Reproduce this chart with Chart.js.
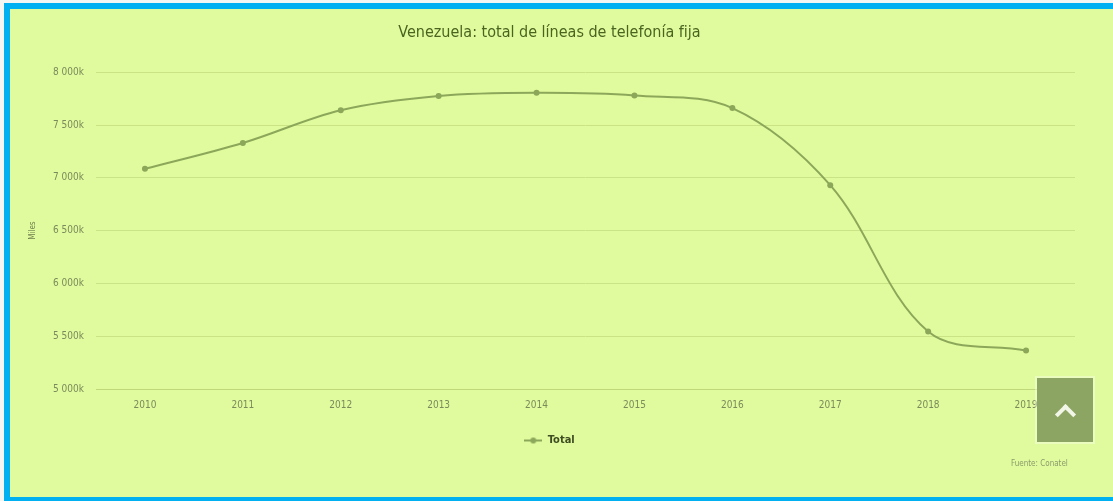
<!DOCTYPE html>
<html lang="es">
<head>
<meta charset="utf-8">
<title>Venezuela: total de líneas de telefonía fija</title>
<script src="https://cdn.jsdelivr.net/npm/chart.js@4"></script>
<style>
    html, body { margin: 0; padding: 0; background: #f4f6f4; overflow: hidden; }
    #marco {
        position: absolute; left: 4px; top: 3px; width: 1115px; height: 488px;
        background: #e0fb9d;
        border-left: 6px solid #00b0f0;
        border-top: 6px solid #00b0f0;
        border-bottom: 4px solid #00b0f0;
    }
    #grafico { position: absolute; left: 0; top: 0; width: 1113px; height: 501px; }
    #fuente {
        position: absolute; left: 1011px; top: 459px;
        font: 8px "DejaVu Sans Condensed", "DejaVu Sans", sans-serif; color: #8a9a6c;
    }
    #subir {
        position: absolute; left: 1037px; top: 378px; width: 56px; height: 64px;
        background: #8da563; box-shadow: 0 0 0 2px rgba(255,255,255,0.35);
    }
    #subir::after {
        content: ''; position: absolute; left: 21px; top: 29px; width: 11px; height: 11px;
        border-left: 4px solid #f1f6e6; border-top: 4px solid #f1f6e6;
        transform: rotate(45deg);
    }
</style>
</head>
<body>
<div id="marco"></div>
<div id="grafico"><canvas id="lineas-chart"></canvas></div>
<div id="fuente">Fuente: Conatel</div>
<div id="subir"></div>
<script>
// Líneas de telefonía fija en Venezuela (miles)
const anios = ['2010', '2011', '2012', '2013', '2014', '2015', '2016', '2017', '2018', '2019'];
const totalLineas = [7085, 7330, 7640, 7775, 7805, 7780, 7660, 6930, 5545, 5365];
const ticksMiles = [5000, 5500, 6000, 6500, 7000, 7500, 8000];

const colorLinea = '#8ca75a';
const colorTexto = '#7b8a5c';
const fuenteEjes = '"DejaVu Sans Condensed", "DejaVu Sans", sans-serif';

// "7500" -> "7 500k"
function formatoMiles(v) {
    const miles = Math.floor(v / 1000);
    const resto = String(v % 1000).padStart(3, '0');
    return `${miles} ${resto}k`;
}

// Símbolo de la leyenda: línea corta con un punto en medio
const simbolo = document.createElement('canvas');
simbolo.width = 18;
simbolo.height = 8;
const sctx = simbolo.getContext('2d');
sctx.strokeStyle = colorLinea;
sctx.lineWidth = 2;
sctx.beginPath();
sctx.moveTo(0, 4);
sctx.lineTo(18, 4);
sctx.stroke();
sctx.fillStyle = colorLinea;
sctx.beginPath();
sctx.arc(9, 4, 3, 0, Math.PI * 2);
sctx.fill();

const ctx = document.getElementById('lineas-chart').getContext('2d');
new Chart(ctx, {
    type: 'line',
    data: {
        labels: anios,
        datasets: [{
            label: 'Total',
            data: totalLineas,
            borderColor: colorLinea,
            backgroundColor: colorLinea,
            borderWidth: 2,
            pointRadius: 3,
            pointBackgroundColor: colorLinea,
            pointBorderWidth: 0,
            tension: 0.35,
            fill: false
        }]
    },
    options: {
        responsive: true,
        maintainAspectRatio: false,
        animation: false,
        layout: { padding: { left: 24, right: 38, top: 0, bottom: 45 } },
        plugins: {
            title: {
                display: true,
                text: 'Venezuela: total de líneas de telefonía fija',
                color: '#4a6420',
                font: { family: fuenteEjes, size: 16, weight: 'normal', lineHeight: 1.2 },
                padding: { top: 23, bottom: 30 }
            },
            legend: {
                position: 'bottom',
                labels: {
                    usePointStyle: true,
                    pointStyle: simbolo,
                    pointStyleWidth: 18,
                    padding: 16,
                    color: '#3f4d22',
                    font: { family: fuenteEjes, size: 11, weight: 'bold' }
                }
            },
            tooltip: { enabled: false }
        },
        scales: {
            x: {
                offset: true,
                grid: { display: false, drawTicks: false },
                border: { display: true, color: '#bfd97a', width: 1 },
                ticks: { color: colorTexto, padding: 10, font: { family: fuenteEjes, size: 10 } },
                afterFit: scale => { scale.height = 30; }
            },
            y: {
                min: 5000,
                max: 8000,
                afterBuildTicks: scale => { scale.ticks = ticksMiles.map(v => ({ value: v })); },
                grid: { color: '#c9e385', drawTicks: false },
                border: { display: false },
                ticks: {
                    color: colorTexto,
                    padding: 12,
                    font: { family: fuenteEjes, size: 10 },
                    callback: value => formatoMiles(value)
                },
                title: {
                    display: true,
                    text: 'Miles',
                    color: '#6f7f4c',
                    font: { family: fuenteEjes, size: 8 }
                },
                afterFit: scale => { scale.width = 72; }
            }
        }
    }
});
</script>
</body>
</html>
